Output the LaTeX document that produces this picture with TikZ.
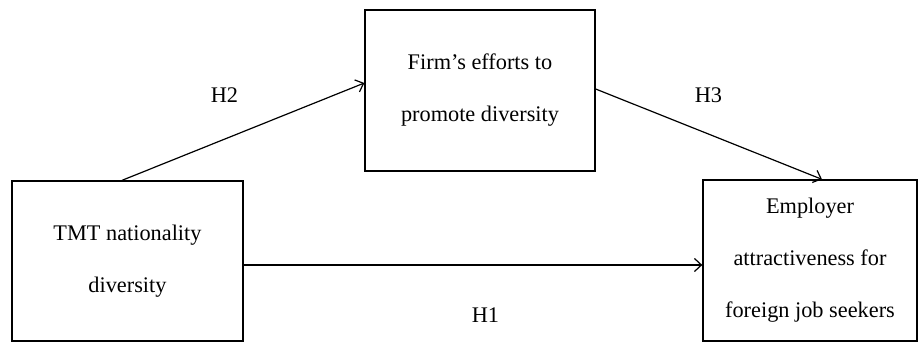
\documentclass[tikz,border=0pt]{standalone}
\usepackage{fontspec}
\setmainfont{Liberation Serif}
\usetikzlibrary{arrows.meta}
\begin{document}
\begin{tikzpicture}[x=1pt,y=-1pt,
  box/.style={draw,line width=1.3pt,rectangle,inner sep=0pt,align=center,
    font=\fontsize{22.3}{52}\selectfont},
  link/.style={line width=1.2pt,-{Straight Barb[length=7pt,width=13pt,line width=1.2pt]}},
  hyp/.style={anchor=base,inner sep=0pt,font=\fontsize{22.3}{26}\selectfont}]
  \useasboundingbox (0,0) rectangle (919,342);

  % constructs
  \node[box,minimum width=231pt,minimum height=160pt] (tmt) at (127.5,261)
    {TMT nationality\\diversity};
  \node[box,minimum width=230pt,minimum height=161pt] (firm) at (480,90.5)
    {Firm’s efforts to\\promote diversity};
  \node[box,minimum width=214pt,minimum height=161pt] (emp) at (810,260.5)
    {Employer\\attractiveness for\\foreign job seekers};

  % hypothesised paths
  \coordinate (h1s) at ([yshift=-4pt]tmt.east);
  \coordinate (h1e) at (h1s -| emp.west);
  \draw[link] ([xshift=-5.5pt]tmt.north) -- ([yshift=7.5pt]firm.west);
  \draw[link] ([yshift=1.5pt]firm.east) -- ([xshift=12pt]emp.north);
  \draw[link] (h1s) -- (h1e);

  % path labels
  \node[hyp] (lh2) at (224.5,103) {H2};
  \node[hyp] (lh3) at (708.5,103) {H3};
  \node[hyp] (lh1) at (485.5,322) {H1};
\end{tikzpicture}
\end{document}
